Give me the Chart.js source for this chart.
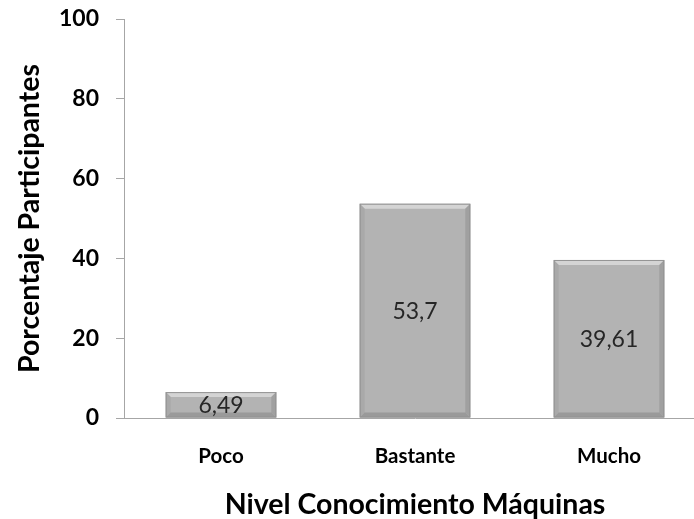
<!DOCTYPE html>
<html>
<head>
<meta charset="utf-8">
<script src="https://cdn.jsdelivr.net/npm/chart.js@4.4.0/dist/chart.umd.min.js"></script>
<style>
  html, body { margin: 0; padding: 0; overflow: hidden; background: #fff; }
  #wrap { width: 706px; height: 519px; }
</style>
</head>
<body>
<div id="wrap"><canvas id="chart" width="706" height="519"></canvas></div>
<script>
// data
const categories = ['Poco', 'Bastante', 'Mucho'];
const percentages = [6.49, 53.7, 39.61];
const yTicks = [0, 20, 40, 60, 80, 100];

const FONT = 'Lato, "Open Sans", sans-serif';

// bevelled grey bars + value labels in the middle
const bevelPlugin = {
  id: 'bevel',
  afterDatasetsDraw(chart) {
    const ctx = chart.ctx;
    const meta = chart.getDatasetMeta(0);
    meta.data.forEach((bar, i) => {
      const l = bar.x - bar.width / 2, r = bar.x + bar.width / 2;
      const t = bar.y, b = bar.base;
      const d = Math.min(5, (b - t) / 2);
      ctx.save();
      // top bevel
      ctx.fillStyle = '#d4d4d4';
      ctx.beginPath();
      ctx.moveTo(l, t); ctx.lineTo(r, t); ctx.lineTo(r - d, t + d); ctx.lineTo(l + d, t + d);
      ctx.fill();
      // left bevel
      ctx.fillStyle = '#a9a9a9';
      ctx.beginPath();
      ctx.moveTo(l, t); ctx.lineTo(l + d, t + d); ctx.lineTo(l + d, b - d); ctx.lineTo(l, b);
      ctx.fill();
      // right bevel
      ctx.fillStyle = '#a0a0a0';
      ctx.beginPath();
      ctx.moveTo(r, t); ctx.lineTo(r - d, t + d); ctx.lineTo(r - d, b - d); ctx.lineTo(r, b);
      ctx.fill();
      // bottom bevel
      ctx.fillStyle = '#9a9a9a';
      ctx.beginPath();
      ctx.moveTo(l, b); ctx.lineTo(l + d, b - d); ctx.lineTo(r - d, b - d); ctx.lineTo(r, b);
      ctx.fill();
      ctx.strokeStyle = '#939393';
      ctx.lineWidth = 1;
      ctx.strokeRect(l + 0.5, t + 0.5, r - l - 1, b - t - 1);

      // value label
      ctx.fillStyle = '#262626';
      ctx.font = '23px ' + FONT;
      ctx.textAlign = 'center';
      ctx.textBaseline = 'middle';
      const txt = String(percentages[i]).replace('.', ',');
      ctx.fillText(txt, bar.x, (t + b) / 2 + 1);
      ctx.restore();
    });
  }
};

new Chart(document.getElementById('chart'), {
  type: 'bar',
  data: {
    labels: categories,
    datasets: [{
      data: percentages,
      backgroundColor: '#b3b3b3',
      borderWidth: 0,
      barPercentage: 0.57,
      categoryPercentage: 1
    }]
  },
  options: {
    responsive: false,
    animation: false,
    layout: { padding: { top: 0, left: 9, right: 0, bottom: 0 } },
    plugins: { legend: { display: false }, tooltip: { enabled: false } },
    scales: {
      y: {
        min: 0,
        max: 100,
        afterBuildTicks: (scale) => { scale.ticks = yTicks.map(v => ({ value: v })); },
        afterFit: (scale) => { scale.width = 115; scale.paddingTop = 19; },
        grid: { display: true, drawOnChartArea: false, drawTicks: true, tickLength: 8, color: '#a6a6a6' },
        border: { display: true, color: '#a6a6a6' },
        ticks: { color: '#000', padding: 17, font: { family: FONT, size: 23, weight: 'bold' } },
        title: {
          display: true,
          text: 'Porcentaje Participantes',
          color: '#000',
          padding: { top: 4, bottom: 0 },
          font: { family: FONT, size: 28.5, weight: 'bold' }
        }
      },
      x: {
        afterFit: (scale) => { scale.height = 101; },
        grid: { display: false },
        border: { display: true, color: '#a6a6a6' },
        ticks: { color: '#000', padding: 18, font: { family: FONT, size: 20.5, weight: 'bold' } },
        title: {
          display: true,
          text: 'Nivel Conocimiento Máquinas',
          color: '#000',
          padding: { top: 0, bottom: 0 },
          font: { family: FONT, size: 28.5, weight: 'bold', lineHeight: 1.0 }
        }
      }
    }
  },
  plugins: [bevelPlugin]
});
</script>
</body>
</html>
